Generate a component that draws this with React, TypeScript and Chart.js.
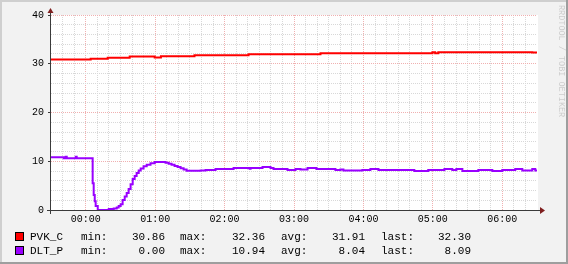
import React, { useEffect, useRef } from 'react';
import { Chart, registerables } from 'chart.js';

Chart.register(...registerables);

// time in minutes relative to 00:00
const pvkTimes = [-30, 4.3, 19, 38, 59.6, 65, 94, 140.7, 202.9, 299.6, 302, 304.7, 385.9, 390];
const pvkValues = [30.86, 31.03, 31.24, 31.5, 31.3, 31.55, 31.75, 31.95, 32.15, 32.36, 32.15, 32.36, 32.3, 32.3];

const dltTimes = [
  -30, -19, -17.3, -16.4, -8.6, -7.8, 6, 6.9, 7.8, 8.6, 10.4, 19.9, 24.2, 26.8, 28.5, 30.2, 31.9, 33.7,
  35.4, 37.1, 38.8, 40.6, 42.3, 44, 45.8, 47.5, 50, 52.7, 56, 59.6, 69, 71.7, 74.2, 76.8, 79.4, 82,
  84.6, 87.2, 99.3, 103.6, 112.2, 127.8, 141.6, 142.5, 152.8,
  159.7, 162.3, 174.4, 181.3, 185.6, 191.7, 199.4, 215.8, 220.1, 222.7, 239.1, 246, 253, 284, 296,
  310, 316.8, 320.3, 325.5, 339.3, 351.4, 360, 371.2, 377.3, 385.9, 388.5, 390,
];
const dltValues = [
  10.8, 10.6, 10.94, 10.6, 10.9, 10.6, 5.5, 3.1, 1.8, 0.8, 0, 0.2, 0.3, 0.5, 0.8, 1.2, 2.05, 2.75,
  3.5, 4.3, 5.3, 6.35, 6.95, 7.6, 8.1, 8.5, 9.0, 9.3, 9.6, 9.85, 9.7, 9.5, 9.3, 9.05, 8.8, 8.55,
  8.3, 8.05, 8.1, 8.2, 8.4, 8.6, 8.45, 8.6, 8.8,
  8.6, 8.4, 8.2, 8.4, 8.3, 8.6, 8.4, 8.2, 8.3, 8.1, 8.2, 8.4, 8.2, 8.0, 8.2,
  8.4, 8.2, 8.4, 8.0, 8.2, 8.0, 8.2, 8.4, 8.1, 8.4, 8.09, 8.09,
];

const seriesNames = ['PVK_C', 'DLT_P'];
const seriesColors = ['#ff0000', '#9900ff'];
const legendMin = ['30.86', '0.00'];
const legendMax = ['32.36', '10.94'];
const legendAvg = ['31.91', '8.04'];
const legendLast = ['32.30', '8.09'];

const xMin = -30;
const xMax = 390;
const xStep = 10;
const xMajor = 60;
const yMin = 0;
const yMax = 40;
const yStep = 2;
const yMajor = 10;
const watermark = 'RRDTOOL / TOBI OETIKER';

const MONO = '"Liberation Mono", "Courier New", monospace';
const MINOR_GRID = '#d8d8d8';
const MAJOR_GRID = '#f0b0b0';

const rrdPlugin = {
  id: 'rrdStyle',
  beforeDraw(chart: any) {
    const { ctx, chartArea: a, width, height } = chart;
    ctx.save();
    ctx.fillStyle = '#f2f2f2';
    ctx.fillRect(0, 0, width, height);
    ctx.fillStyle = '#cfcfcf';
    ctx.fillRect(0, 0, width, 2);
    ctx.fillRect(0, 0, 2, height);
    ctx.fillStyle = '#9e9e9e';
    ctx.fillRect(0, height - 2, width, 2);
    ctx.fillRect(width - 2, 0, 2, height);
    ctx.fillStyle = '#ffffff';
    ctx.fillRect(a.left, a.top, a.right - a.left + 1, a.bottom - a.top);
    ctx.restore();
  },
  beforeDatasetsDraw(chart: any) {
    const { ctx, chartArea: a } = chart;
    ctx.save();
    ctx.strokeStyle = '#3a3a3a';
    ctx.lineWidth = 1;
    ctx.beginPath();
    ctx.moveTo(a.left - 4, a.bottom + 0.5);
    ctx.lineTo(a.right + 3, a.bottom + 0.5);
    ctx.moveTo(a.left - 0.5, a.bottom + 4);
    ctx.lineTo(a.left - 0.5, a.top - 2);
    ctx.stroke();
    ctx.fillStyle = '#7f1f1f';
    ctx.beginPath();
    ctx.moveTo(a.right + 3, a.bottom - 3);
    ctx.lineTo(a.right + 8, a.bottom + 0.5);
    ctx.lineTo(a.right + 3, a.bottom + 4);
    ctx.closePath();
    ctx.fill();
    ctx.beginPath();
    ctx.moveTo(a.left - 3.5, a.top - 2);
    ctx.lineTo(a.left - 0.5, a.top - 7);
    ctx.lineTo(a.left + 2.5, a.top - 2);
    ctx.closePath();
    ctx.fill();
    ctx.restore();
  },
  afterDraw(chart: any) {
    const { ctx, width } = chart;
    ctx.save();
    const rows = [237, 251];
    ctx.font = '11px ' + MONO;
    ctx.textBaseline = 'middle';
    seriesNames.forEach((name, i) => {
      const y = rows[i];
      ctx.fillStyle = seriesColors[i];
      ctx.fillRect(15.5, y - 4.5, 8, 8);
      ctx.strokeStyle = '#000';
      ctx.lineWidth = 1;
      ctx.strokeRect(15.5, y - 4.5, 8, 8);
      ctx.fillStyle = '#000';
      ctx.textAlign = 'left';
      ctx.fillText(name, 30, y);
      ctx.fillText('min:', 81, y);
      ctx.fillText('max:', 180, y);
      ctx.fillText('avg:', 281, y);
      ctx.fillText('last:', 381, y);
      ctx.textAlign = 'right';
      ctx.fillText(legendMin[i], 165, y);
      ctx.fillText(legendMax[i], 265, y);
      ctx.fillText(legendAvg[i], 365, y);
      ctx.fillText(legendLast[i], 471, y);
    });
    ctx.translate(width - 7, 5);
    ctx.rotate(Math.PI / 2);
    ctx.font = '8.5px ' + MONO;
    ctx.fillStyle = 'rgba(0,0,0,0.16)';
    ctx.textAlign = 'left';
    ctx.textBaseline = 'middle';
    ctx.fillText(watermark, 0, 0);
    ctx.restore();
  },
};

function hourLabel(v: number) {
  const h = Math.round(v / 60);
  return (h < 10 ? '0' : '') + h + ':00';
}

export default function App() {
  const ref = useRef<HTMLCanvasElement>(null);
  useEffect(() => {
    if (!ref.current) return;
    const chart = new Chart(ref.current, {
      type: 'line',
      data: {
        datasets: [
          {
            label: seriesNames[0],
            data: pvkTimes.map((t, i) => ({ x: t, y: pvkValues[i] })),
            borderColor: seriesColors[0],
            borderWidth: 2,
            stepped: true,
            pointRadius: 0,
            fill: false,
          },
          {
            label: seriesNames[1],
            data: dltTimes.map((t, i) => ({ x: t, y: dltValues[i] })),
            borderColor: seriesColors[1],
            borderWidth: 2,
            stepped: true,
            pointRadius: 0,
            fill: false,
          },
        ],
      },
      options: {
        animation: false,
        responsive: false,
        devicePixelRatio: 1,
        layout: { padding: { top: 15, right: 31, bottom: 34, left: 0 } },
        plugins: { legend: { display: false }, tooltip: { enabled: false } },
        elements: { line: { borderJoinStyle: 'miter', borderCapStyle: 'butt' } },
        scales: {
          x: {
            type: 'linear',
            min: xMin,
            max: xMax,
            afterFit: (s: any) => { s.height = 20; },
            ticks: {
              stepSize: xStep,
              autoSkip: false,
              maxRotation: 0,
              padding: 3,
              color: '#000',
              font: { family: MONO, size: 10 },
              callback: (v: any) => (Number(v) % xMajor === 0 ? hourLabel(Number(v)) : ''),
            },
            grid: {
              drawTicks: false,
              lineWidth: 1,
              color: (c: any) => {
                const v = c.tick ? c.tick.value : 0;
                if (v === xMin || v === xMax) return 'transparent';
                return v % xMajor === 0 ? MAJOR_GRID : MINOR_GRID;
              },
            },
            border: { display: false, dash: [1, 1] },
          },
          y: {
            type: 'linear',
            min: yMin,
            max: yMax,
            afterFit: (s: any) => { s.width = 51; },
            ticks: {
              stepSize: yStep,
              autoSkip: false,
              padding: 4,
              color: '#000',
              font: { family: MONO, size: 10 },
              callback: (v: any) => (Number(v) % yMajor === 0 ? String(v) : ''),
            },
            grid: {
              drawTicks: true,
              tickLength: 3,
              lineWidth: 1,
              tickColor: (c: any) => (c.tick && c.tick.value % yMajor === 0 ? '#3a3a3a' : 'transparent'),
              color: (c: any) => {
                const v = c.tick ? c.tick.value : 0;
                if (v === yMin) return 'transparent';
                return v % yMajor === 0 ? MAJOR_GRID : MINOR_GRID;
              },
            },
            border: { display: false, dash: [1, 1] },
          },
        },
      } as any,
      plugins: [rrdPlugin],
    });
    return () => chart.destroy();
  }, []);
  return (
    <canvas
      ref={ref}
      width={568}
      height={264}
      style={{ position: 'absolute', left: 0, top: 0, width: 568, height: 264 }}
    />
  );
}
